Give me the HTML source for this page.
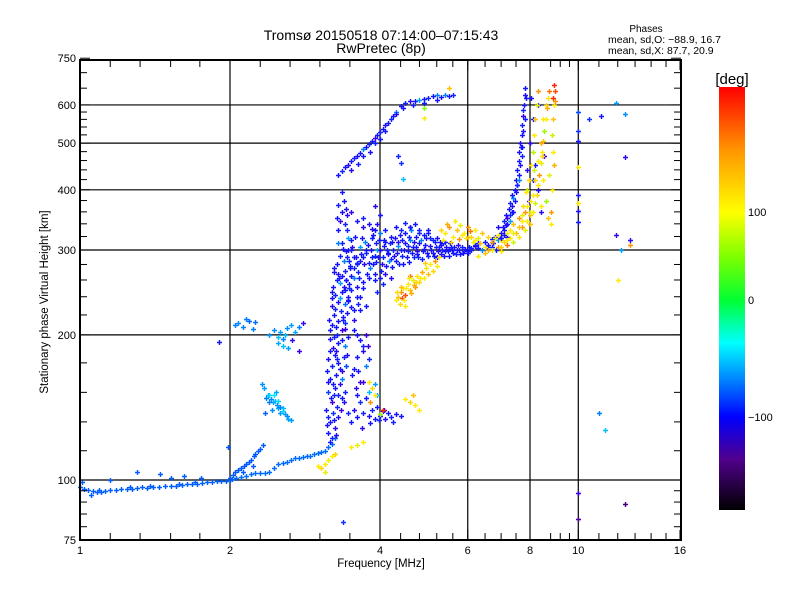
<!DOCTYPE html>
<html><head><meta charset="utf-8"><title>Ionogram</title>
<style>
html,body{margin:0;padding:0;background:#fff;}
svg{display:block;font-family:"Liberation Sans",sans-serif;}
</style></head>
<body>
<svg id="chart" width="800" height="600" viewBox="0 0 800 600" xmlns="http://www.w3.org/2000/svg">
<defs>
<linearGradient id="cbar" x1="0" y1="0" x2="0" y2="1">
<stop offset="0" stop-color="#ff0000"/>
<stop offset="0.15" stop-color="#ff9600"/>
<stop offset="0.296" stop-color="#ffff00"/>
<stop offset="0.40" stop-color="#80ff00"/>
<stop offset="0.504" stop-color="#00ff32"/>
<stop offset="0.605" stop-color="#00ffff"/>
<stop offset="0.70" stop-color="#0078ff"/>
<stop offset="0.78" stop-color="#0000ff"/>
<stop offset="0.88" stop-color="#50008c"/>
<stop offset="1" stop-color="#000000"/>
</linearGradient>
</defs>
<g id="grid"></g>
<g id="points"></g>
<g id="axes"></g>
<text x="381" y="40" font-size="14" text-anchor="middle">Tromsø 20150518 07:14:00–07:15:43</text>
<text x="381" y="53" font-size="14" text-anchor="middle">RwPretec (8p)</text>
<text x="646" y="32" font-size="10" text-anchor="middle">Phases</text>
<text x="608" y="43" font-size="10.5">mean, sd,O: −88.9, 16.7</text>
<text x="608" y="54" font-size="10.5">mean, sd,X:  87.7, 20.9</text>
<text transform="translate(48,302) rotate(-90)" font-size="11.5" text-anchor="middle">Stationary phase Virtual Height [km]</text>
<text x="381" y="567" font-size="11.5" text-anchor="middle">Frequency [MHz]</text>
<rect x="719" y="87" width="26" height="423" fill="url(#cbar)"/>
<text x="732" y="84" font-size="15" text-anchor="middle">[deg]</text>
<g id="cbticks"></g>
</svg>
<script>
// ---------- data (frequency MHz, virtual height km, phase deg) ----------
const lowTraceFreq=[1.00,1.02,1.04,1.06,1.08,1.10,1.12,1.15,1.18,1.21,1.24,1.27,1.30,1.33,1.36,1.40,1.44,1.48,1.52,1.56,1.60,1.64,1.68,1.72,1.76,1.80,1.84,1.88,1.92,1.96,2.00,1.01,1.15,1.30,1.45,1.52,1.62,1.75,1.05,1.09,1.26,1.38,1.70,1.58];
const lowTraceHeight=[96.5,96,95.5,95,94.6,94.5,95,95.5,95.5,95.8,96,96,96.2,96.5,96.4,96.6,96.8,97,97,97.3,97.5,98,98.2,98.3,98.6,99,99.2,99.5,99.6,99.7,100,99,100,104,103,101,102,101,93,95.5,96.8,97.4,99,98.2];
const lowTracePhase=-72;

const riseLowFreq=[2.02,2.06,2.1,2.15,2.2,2.25,2.3,2.35,2.4,2.45,2.5,2.55,2.6,2.65,2.7,2.75,2.8,2.85,2.9,2.95,3.0,3.05,3.1,3.15,3.2,3.25];
const riseLowHeight=[100.5,101,101.3,101.8,103,103.2,103.5,103.6,104,106,108,108.5,109,110,111,111.2,111.5,112,112.3,113,114,114.5,115,117,119,122];
const riseLowPhase=-68;

const riseHighFreq=[2.0,2.03,2.05,2.08,2.1,2.13,2.15,2.18,2.2,2.23,2.25,2.28,2.3,2.33,1.98,2.12,2.22];
const riseHighHeight=[101,102.5,104,105,106,107,108,109,110,112,113,115,116,118,117,104,107];
const riseHighPhase=-74;

const cuspFreq=[2.32,2.34,2.38,2.36,2.40,2.42,2.44,2.46,2.48,2.50,2.52,2.55,2.58,2.60,2.62,2.45,2.40,2.52,2.56,2.35,2.47,2.43,2.50,2.65];
const cuspHeight=[158,155,150,148,150,147,145,146,143,141,142,139,137,136,134,150,145,138,141,138,152,140,146,133];
const cuspPhase=[-55,-50,-45,-60,-35,-55,-50,-40,-55,-45,-60,-35,-50,-55,-45,-30,-60,-50,-40,-70,-45,-55,-35,-50];

const ledgeFreq=[2.05,2.08,2.12,2.18,2.22,2.25,2.4,2.45,2.5,2.52,2.55,2.58,2.6,2.65,2.7,2.75,2.55,2.5,2.62,2.66,2.8,2.75,1.9,2.15];
const ledgeHeight=[210,212,208,214,206,213,200,205,198,203,196,200,207,210,203,208,190,192,188,195,212,185,193,216];
const ledgePhase=[-60,-55,-60,-70,-60,-65,-50,-55,-40,-50,-60,-40,-55,-50,-45,-60,-40,-45,-50,-110,-110,-120,-100,-60];

const columnFreq=[3.15,3.2,3.25,3.18,3.22,3.3,3.12,3.2,3.28,3.35,3.15,3.25,3.32,3.4,3.18,3.26,3.35,3.2,3.3,3.42,3.15,3.25,3.38,3.22,3.3,3.4,3.18,3.28,3.36,3.45,3.2,3.3,3.4,3.24,3.34,3.44,3.2,3.3,3.4,3.5,3.25,3.35,3.45,3.22,3.32,3.42,3.3,3.4,3.5,3.28,3.38,3.48,3.32,3.42,3.35,3.45,3.3,3.4,3.35,3.38,3.33,3.5,3.55,3.6,3.28,3.42,3.36,3.3,3.44,3.13,3.23,3.33,3.27,3.17,3.37,3.21,3.31,3.46,3.14,3.24];
const columnHeight=[125,122,128,132,138,135,140,145,142,148,152,155,158,152,162,165,168,172,175,172,178,182,180,188,192,190,196,200,205,198,210,214,212,220,224,222,230,234,232,228,242,245,240,252,256,260,268,272,265,280,285,278,292,298,310,318,330,340,360,380,345,300,290,282,350,365,395,372,355,130,150,170,185,205,215,238,262,250,160,275];
const columnPhase=[-100,-95,-110,-100,-90,-105,-100,-120,-95,-100,-85,-100,-110,-95,-100,-100,-125,-95,-100,-80,-105,-100,-95,-110,-100,-60,-100,-95,-120,-100,-100,-105,-90,-100,-95,-100,-110,-100,-70,-100,-95,-100,-105,-100,-50,-100,-110,-95,-100,-100,-60,-100,-95,-105,-100,-45,-100,-95,-105,-100,-120,-95,-100,-90,-100,-105,-100,-95,-110,-100,-95,-100,-110,-100,-95,-100,-100,-90,-105,-100];

const columnExtraFreq=[3.17,3.27,3.14,3.24,3.34,3.19,3.29,3.39,3.22,3.36,3.13,3.28,3.44,3.17,3.35,3.23,3.41,3.27,3.16,3.37,3.25,3.45,3.33,3.21,3.38,3.28,3.47,3.35,3.23,3.43,3.37,3.3,3.5,3.44,3.55,3.6,3.65,3.55,3.7,3.6,3.55,3.65,3.6,3.7];
const columnExtraHeight=[120,124,135,133,140,148,150,145,158,162,168,178,182,185,195,198,206,208,215,218,226,235,238,245,252,260,255,265,270,290,302,310,315,330,140,150,160,170,190,200,215,225,240,250];
const columnExtraPhase=[-100,-110,-95,-100,-120,-100,-95,-105,-100,-60,-100,-95,-110,-100,-100,-95,-120,-100,-105,-100,-95,-100,-50,-100,-110,-95,-100,-100,-105,-95,-100,-60,-100,-95,-110,-100,-120,-100,-95,-100,-110,-100,-95,-100];

const noseFreq=[3.6,3.7,3.8,3.9,4.0,4.1,4.2,4.3,3.65,3.75,3.58,3.7,3.62,3.75,3.6,3.7,3.8,3.65,3.75,3.55,3.85,3.95,4.05,3.5,3.45,3.8,3.9,3.95,4.15,4.25,4.4,3.68,3.82,3.98,4.08,3.52,3.78];
const noseHeight=[135,138,136,134,136,134,135,137,145,148,155,160,168,172,180,185,178,195,200,205,140,142,139,132,138,152,158,150,138,132,136,128,131,133,140,165,190];
const nosePhase=[-100,-95,-105,-100,-100,-110,-95,-100,-90,-100,-110,-120,-100,-60,-100,-110,-95,-100,-120,-100,-95,-100,-105,-100,-95,-40,-50,-45,-100,-95,-100,-110,-100,-95,-105,-100,-120];

const fLayerFreq=[3.45,3.5,3.55,3.48,3.6,3.62,3.58,3.65,3.7,3.72,3.75,3.68,3.8,3.82,3.85,3.78,3.88,3.9,3.92,3.95,3.98,3.85,4.02,4.05,4.08,4.0,4.12,4.15,4.18,4.1,4.22,4.25,4.28,4.3,4.35,4.38,4.42,4.45,4.48,4.5,4.55,4.58,4.6,4.65,4.68,4.72,4.75,4.8,4.85,4.9,4.95,5.0,5.05,5.1,5.15,5.2,5.25,5.3,5.35,5.4,5.5,5.55,5.6,5.7,5.8,5.9,6.0,6.1,4.4,4.2,4.0,3.7,3.9,4.62,4.3,3.95,4.5,4.1,3.8,3.6,3.65,3.55,4.05,4.2,3.75,3.95,3.5,3.6,3.7,3.9,4.0,3.8,4.6,4.8,5.0,5.2,5.4,4.7,4.9,5.1,5.3,5.5,3.75,3.85,4.15,4.35,4.55,4.75];
const fLayerHeight=[236,248,262,275,252,270,290,305,258,280,296,318,262,275,290,308,322,268,284,300,315,332,272,290,306,325,278,294,310,330,276,300,318,285,306,322,292,280,310,326,298,284,315,305,290,320,298,310,288,302,318,292,306,296,312,290,304,294,310,298,292,305,296,300,294,298,296,300,300,288,300,290,292,330,335,340,342,312,282,280,240,225,255,262,230,245,360,345,350,370,355,340,335,330,325,318,312,340,322,315,308,302,300,318,296,312,306,294];
const fLayerPhase=[-100,-95,-60,-100,-105,-95,-100,-50,-100,-110,-95,-100,-100,-60,-95,-100,-105,-100,-95,-45,-100,-110,-100,-95,-100,-60,-100,-105,-95,-100,-100,-95,-110,-100,-55,-100,-95,-100,-105,-100,-95,-100,-60,-100,-95,-100,-110,-100,-95,-100,-100,-95,-105,-100,-95,-100,-100,-105,-95,-100,-100,-95,-100,-105,-100,-95,-100,-100,-95,-100,-105,-100,-95,-60,-100,-110,-95,-100,-100,-95,-100,-100,-95,-110,-100,-95,-120,-100,-95,-110,-100,-105,-100,-95,-100,-105,-95,-100,-100,-95,-105,-100,-100,-95,-100,-105,-95,-100];

const fLayerExtraFreq=[3.42,3.47,3.52,3.57,3.63,3.67,3.73,3.77,3.83,3.87,3.93,3.97,4.03,4.07,4.13,4.17,4.23,4.27,4.33,4.37,4.43,4.47,4.53,4.57,4.63,4.67,4.73,4.77,4.83,4.87,4.93,4.97,5.03,5.07,5.13,5.17,5.23,5.27,5.33,5.37,5.43,5.47,5.53,5.57,5.63,5.67,5.73,5.77,5.83,5.87,5.93,6.03,6.2,6.3,4.2,4.4,3.9,3.7,4.6,4.8,5.0,3.45,3.55,3.65,3.4,3.62,3.9,4.1,4.0];
const fLayerExtraHeight=[260,285,305,320,262,295,312,268,300,280,310,290,280,315,300,285,312,292,296,280,315,300,290,320,296,312,305,290,315,298,308,296,318,300,292,305,298,312,300,292,305,298,310,300,305,295,308,300,305,296,302,305,308,303,320,330,330,335,335,325,330,300,275,285,248,232,260,268,262];
const fLayerExtraPhase=[-100,-95,-110,-100,-95,-100,-60,-100,-105,-100,-95,-100,-110,-100,-95,-55,-100,-105,-100,-95,-100,-110,-100,-95,-100,-105,-100,-95,-60,-100,-100,-105,-95,-100,-100,-95,-110,-100,-95,-100,-105,-100,-95,-100,-100,-95,-110,-100,-95,-100,-105,-100,-95,-100,-100,-95,-100,-110,-100,-95,-100,-100,-95,-105,-100,-95,-100,-110,-100];

const yellowPatchFreq=[4.3,4.35,4.4,4.38,4.45,4.5,4.55,4.6,4.65,4.7,4.75,4.8,4.85,4.9,4.95,5.0,5.05,5.1,5.15,5.2,5.25,4.42,4.52,4.62,4.72,4.5,4.4,4.6,4.33,4.47,4.57,4.67,4.82,4.92];
const yellowPatchHeight=[236,240,245,232,250,242,255,248,260,252,265,258,270,262,275,268,280,272,285,278,290,238,250,244,258,230,252,265,246,236,262,254,262,282];
const yellowPatchPhase=[100,120,140,110,100,160,100,120,90,140,100,110,130,100,95,120,100,110,140,100,105,160,100,130,110,100,120,150,110,100,95,130,100,115];

const xStartFreq=[5.3,5.4,5.5,5.6,5.7,5.8,5.9,6.0,6.1,6.2,5.45,5.65,6.3,6.4,5.35,5.55,5.75,5.95,6.15,6.35,5.85,6.05];
const xStartHeight=[330,325,335,320,330,338,325,335,320,330,340,345,318,325,315,312,316,318,312,310,322,328];
const xStartPhase=[110,100,140,100,120,90,100,140,110,100,130,100,90,120,100,110,140,100,95,120,100,150];

const oTraceFreq=[6.0,6.1,6.2,6.3,6.4,6.5,6.6,6.7,6.8,6.9,7.0,7.05,7.1,7.15,7.2,7.25,7.3,7.35,7.4,7.45,7.5,7.55,7.6,7.62,7.65,7.7,7.72,7.75,7.78,7.8,7.82,7.7,7.5,7.3,7.1,6.9,6.7,7.6,7.4,7.8,6.85,7.2,6.55,6.75,6.95,7.15,7.35,7.55,7.68,7.74,7.76,7.84];
const oTraceHeight=[298,303,306,310,300,312,308,316,320,314,325,335,345,355,350,365,375,390,385,400,420,440,460,480,500,520,545,570,600,630,650,470,395,345,330,335,305,420,360,560,300,320,304,310,318,338,360,410,490,530,585,620];
const oTracePhase=[-100,-95,-105,-100,-60,-100,-110,-95,-100,-50,-100,-105,-95,-100,-120,-100,-95,-100,-60,-100,-105,-100,-95,-100,-110,-100,-95,-120,-100,-105,-100,-95,-100,-50,-100,-105,-95,-60,-100,-95,-100,-105,-100,-95,-100,-110,-100,-95,-100,-105,-95,-100];

const xTraceFreq=[6.3,6.5,6.7,6.9,7.0,7.1,7.2,7.3,7.4,7.5,7.6,7.7,7.8,7.9,8.0,8.1,8.2,8.25,8.3,8.35,8.4,8.45,8.5,8.55,8.6,8.65,8.7,8.75,8.0,7.9,7.95,8.05,8.1,8.15,8.2,8.25,8.3,8.9,8.95,8.9,8.85,8.9,8.95,8.85,7.6,7.4,7.2,6.8,7.75,8.5,8.6,8.7,8.8,6.6,7.0,7.3,7.7,8.0,8.4,8.8,7.85,8.15,8.45,8.75,9.0,9.0,8.92];
const xTraceHeight=[292,296,300,305,298,312,308,318,312,325,320,335,330,345,340,360,375,390,410,430,455,480,505,530,560,590,620,640,380,400,420,450,480,520,560,600,640,620,600,560,520,480,450,400,350,340,325,318,370,420,380,350,340,300,315,330,355,355,370,360,395,440,470,430,640,610,660];
const xTracePhase=[100,120,90,140,100,110,150,100,80,120,100,140,90,100,120,100,80,110,100,140,90,100,120,60,100,130,100,150,100,80,110,100,70,100,120,90,140,170,100,120,80,100,130,100,140,120,100,90,110,100,60,120,100,130,110,100,90,120,100,140,100,80,110,90,160,140,170];

const arcExtraFreq=[7.0,7.1,7.2,7.3,7.35,7.45,7.55,7.6,7.65,7.7,7.0,7.2,7.4,7.6,7.7,7.8,7.9,8.0,8.1,8.2,8.3,8.4,8.5,8.6,6.5,6.7,6.9,6.6,6.2,6.0];
const arcExtraHeight=[318,322,340,355,370,380,410,430,450,490,305,315,325,335,345,360,370,360,390,420,460,500,560,600,305,312,322,320,315,320];
const arcExtraPhase=[-100,-105,-100,-95,-110,-100,-95,-100,-105,-100,110,100,90,120,100,140,100,90,100,110,100,130,100,110,100,140,100,110,100,120];

const xBlueFreq=[7.95,8.1,8.0,8.2,8.3,8.4,8.1,8.3,8.55,8.05,7.9];
const xBlueHeight=[380,420,500,450,400,360,560,600,470,620,440];
const xBluePhase=[-110,-100,-115,-100,-105,-110,-100,-95,-120,-100,-110];

const topTraceFreq=[3.3,3.35,3.4,3.45,3.5,3.55,3.6,3.65,3.7,3.75,3.8,3.85,3.9,3.95,4.0,4.05,4.1,4.15,4.2,4.25,4.3,4.4,4.5,4.6,4.7,4.8,4.9,5.0,5.1,5.2,5.3,5.4,5.5,5.6,3.5,3.7,3.9,4.1,4.3,4.45,4.65,4.9,5.2,4.0,4.4,4.35,4.45,4.9,4.9,3.62,3.82];
const topTraceHeight=[430,438,445,450,458,465,470,478,485,490,498,505,512,520,528,535,545,550,560,570,580,598,605,610,612,615,618,620,625,615,622,628,625,630,440,470,500,530,575,590,600,605,630,510,455,470,422,590,565,452,480];
const topTracePhase=[-100,-95,-100,-110,-100,-95,-105,-100,-60,-100,-95,-100,-120,-100,-95,-100,-105,-100,-95,-100,-60,-100,-95,-110,-100,-50,-100,-95,-100,-105,-100,-60,-100,-95,-105,-100,-95,-100,-110,-100,-95,-100,-60,-100,-90,-95,-40,50,100,-100,-105];

const lowYellowFreq=[3.0,3.05,3.1,3.15,3.2,3.25,3.1,3.8,3.85,3.9,4.5,4.6,4.7,4.8,4.65,3.5,3.6,3.7,3.82,4.0,4.05];
const lowYellowHeight=[107,106,108,110,112,113,104,160,155,150,147,145,143,140,150,117,118,120,145,137,140];
const lowYellowPhase=[100,110,100,95,100,110,90,100,110,100,100,110,100,100,120,100,90,100,140,60,170];

const sparseFreq=[10,10,10,10,10,10,10,10,11.1,11.9,12.4,12.4,11.9,12.7,12.7,12.2,10,10,12.4,11.3,11.0,3.37,5.5,10.5,12.0];
const sparseHeight=[580,530,505,445,390,376,362,343,570,605,575,467,323,315,307,300,94,83,89,127,138,82,650,560,260];
const sparsePhase=[-80,-90,-100,100,-100,100,-105,-100,-100,-50,-55,-110,-110,-110,140,-50,-120,-140,-150,-40,-60,-90,120,-90,100];

const clusters=[
 [lowTraceFreq,lowTraceHeight,lowTracePhase],[riseLowFreq,riseLowHeight,riseLowPhase],
 [riseHighFreq,riseHighHeight,riseHighPhase],[cuspFreq,cuspHeight,cuspPhase],
 [ledgeFreq,ledgeHeight,ledgePhase],[columnFreq,columnHeight,columnPhase],
 [columnExtraFreq,columnExtraHeight,columnExtraPhase],
 [noseFreq,noseHeight,nosePhase],[fLayerFreq,fLayerHeight,fLayerPhase],
 [fLayerExtraFreq,fLayerExtraHeight,fLayerExtraPhase],
 [topTraceFreq,topTraceHeight,topTracePhase],[oTraceFreq,oTraceHeight,oTracePhase],
 [xBlueFreq,xBlueHeight,xBluePhase],[yellowPatchFreq,yellowPatchHeight,yellowPatchPhase],
 [xStartFreq,xStartHeight,xStartPhase],[xTraceFreq,xTraceHeight,xTracePhase],
 [arcExtraFreq,arcExtraHeight,arcExtraPhase],
 [lowYellowFreq,lowYellowHeight,lowYellowPhase],[sparseFreq,sparseHeight,sparsePhase]
];

const xTickValues=[1,2,4,6,8,10,16];
const xTickLabels=["1","2","4","6","8","10","16"];
const xGridValues=[2,4,6,8,10];
const xMinorValues=[1.15,1.32,1.52,1.74,2.3,2.64,3.03,3.48,4.4,4.8,5.2,5.6,6.5,7,7.5,8.8,9.2,9.6,11,12,13,14,15];
const yTickValues=[75,100,200,300,400,500,600,750];
const yTickLabels=["75","100","200","300","400","500","600","750"];
const yGridValues=[100,200,300,400,500,600];
const yMinorValues=[80,85,90,95,115,132,152,175,220,240,260,280,320,340,360,380,420,440,460,480,520,540,560,580,650,700];
const cbTickValues=[100,0,-100];
const cbTickLabels=["100","0","−100"];

// ---------- scales ----------
const L=80,R=681,T=60,B=540;
function xs(f){return L+150*Math.log2(f);}
function ys(h){return 480-482*Math.log10(h/100);}
function cby(p){
  const pts=[[180,87],[100,212],[0,300],[-100,417],[-180,510]];
  for(let i=0;i<pts.length-1;i++){const a=pts[i],b=pts[i+1];if(p<=a[0]&&p>=b[0])return a[1]+(p-a[0])/(b[0]-a[0])*(b[1]-a[1]);}
  return p>180?87:510;
}
const cmap=[[-180,[0,0,0]],[-145,[80,0,140]],[-120,[60,0,230]],[-100,[20,20,255]],[-70,[0,100,255]],[-45,[0,170,255]],[-25,[0,255,255]],[0,[0,255,50]],[50,[130,255,0]],[100,[255,235,0]],[140,[255,150,0]],[180,[255,0,0]]];
function color(p){
  for(let i=0;i<cmap.length-1;i++){const a=cmap[i],b=cmap[i+1];
    if(p>=a[0]&&p<=b[0]){const t=(p-a[0])/(b[0]-a[0]);return 'rgb('+a[1].map((v,k)=>Math.round(v+t*(b[1][k]-v))).join(',')+')';}}
  return p<-180?'#000':'#f00';
}
const NS='http://www.w3.org/2000/svg';
function mk(tag,attrs,parent){const e=document.createElementNS(NS,tag);for(const k in attrs)e.setAttribute(k,attrs[k]);parent.appendChild(e);return e;}

// ---------- grid ----------
const grid=document.getElementById('grid');
xGridValues.forEach(v=>{const e=mk('line',{x1:xs(v),x2:xs(v),y1:T,y2:B,stroke:'#000','stroke-width':1.2},grid);

});
yGridValues.forEach(v=>{const e=mk('line',{x1:L,x2:R,y1:ys(v),y2:ys(v),stroke:'#000','stroke-width':1.2},grid);

});

// ---------- points ----------
const pg=document.getElementById('points');
clusters.forEach(c=>{
  const F=c[0],H=c[1],P=c[2];
  for(let i=0;i<F.length;i++){
    const p=Array.isArray(P)?P[i]:P;
    const x=Math.round(xs(F[i])),y=Math.round(ys(H[i]));
    const e=mk('path',{d:'M'+(x-2)+' '+(y+0.5)+'h5M'+(x+0.5)+' '+(y-2)+'v5',stroke:color(p),'stroke-width':1.4,fill:'none'},pg);
    
    
  }
});

// ---------- axes ----------
const ax=document.getElementById('axes');
const fr=mk('rect',{x:L,y:T,width:R-L,height:B-T,fill:'none',stroke:'#000','stroke-width':2},ax);


xTickValues.forEach((v,i)=>{
  mk('line',{x1:xs(v),x2:xs(v),y1:B,y2:B-10,stroke:'#000'},ax);
  mk('line',{x1:xs(v),x2:xs(v),y1:T,y2:T+10,stroke:'#000'},ax);
  const t=mk('text',{x:xs(v),y:554,'font-size':11,'text-anchor':'middle'},ax);t.textContent=xTickLabels[i];
  
  
});
xMinorValues.forEach(v=>{mk('line',{x1:xs(v),x2:xs(v),y1:B,y2:B-7,stroke:'#000'},ax);mk('line',{x1:xs(v),x2:xs(v),y1:T,y2:T+7,stroke:'#000'},ax);});
yTickValues.forEach((v,i)=>{
  mk('line',{x1:L,x2:L+10,y1:ys(v),y2:ys(v),stroke:'#000'},ax);
  mk('line',{x1:R,x2:R-10,y1:ys(v),y2:ys(v),stroke:'#000'},ax);
  const t=mk('text',{x:76,y:ys(v)+4,'font-size':11,'text-anchor':'end'},ax);t.textContent=yTickLabels[i];
  
  
});
yMinorValues.forEach(v=>{mk('line',{x1:L,x2:L+7,y1:ys(v),y2:ys(v),stroke:'#000'},ax);mk('line',{x1:R,x2:R-7,y1:ys(v),y2:ys(v),stroke:'#000'},ax);});

// ---------- colorbar ticks ----------
const cb=document.getElementById('cbticks');
cbTickValues.forEach((v,i)=>{
  const t=mk('text',{x:748,y:cby(v)+4,'font-size':11},cb);t.textContent=cbTickLabels[i];
  
  
});
</script>
</body></html>
